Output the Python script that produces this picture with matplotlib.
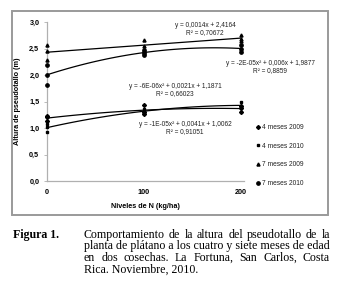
import numpy as np
import matplotlib
matplotlib.use("Agg")
import matplotlib.pyplot as plt
from matplotlib.patches import Rectangle
from matplotlib.lines import Line2D

# ---------------- data ----------------
n_levels = [0, 100, 200]
series_names = ["4 meses 2009", "4 meses 2010", "7 meses 2009", "7 meses 2010"]
# replicate values at each N level (three per level)
s_4m2009 = [[1.22, 1.20, 1.14], [1.44, 1.30, 1.27], [1.42, 1.37, 1.31]]
s_4m2010 = [[1.08, 1.01, 0.93], [1.36, 1.31, 1.28], [1.49, 1.42, 1.37]]
s_7m2009 = [[2.56, 2.45, 2.28], [2.66, 2.55, 2.48], [2.76, 2.68, 2.65]]
s_7m2010 = [[2.19, 2.00, 1.82], [2.47, 2.42, 2.38], [2.56, 2.50, 2.44]]
fit_degree = [2, 2, 1, 2]
equations = ["y = -6E-06x² + 0,0021x + 1,1871\nR² = 0,66023",
             "y = -1E-05x² + 0,0041x + 1,0062\nR² = 0,91051",
             "y = 0,0014x + 2,4164\nR² = 0,70672",
             "y = -2E-05x² + 0,006x + 1,9877\nR² = 0,8859"]
yticks = [0.0, 0.5, 1.0, 1.5, 2.0, 2.5, 3.0]
ytick_labels = ["0,0", "0,5", "1,0", "1,5", "2,0", "2,5", "3,0"]
xlabel = "Niveles de N (kg/ha)"
ylabel = "Altura de pseudotallo (m)"
caption_head = "Figura 1."
caption_lines = ["Comportamiento de la altura del pseudotallo de la",
                 "planta de plátano a los cuatro y siete meses de edad",
                 "en dos cosechas. La Fortuna, San Carlos, Costa",
                 "Rica. Noviembre, 2010."]
caption_justify = [True, False, True, False]

all_series = [s_4m2009, s_4m2010, s_7m2009, s_7m2010]
markers = ["D", "s", "^", "o"]
msizes = [2.0, 1.5, 2.2, 2.4]

# ---------------- figure ----------------
W, H = 339, 292
fig = plt.figure(figsize=(W / 100, H / 100), dpi=100)
fig.patch.set_facecolor("white")

def fx(px):
    return px / W

def fy(py):
    return 1 - py / H

# outer chart frame
fig.patches.append(Rectangle((fx(12), fy(215)), fx(328) - fx(12), fy(11) - fy(215),
                             transform=fig.transFigure, fill=False,
                             edgecolor="#9a9a9a", linewidth=1.4))

ax = fig.add_axes([fx(47), fy(181), fx(244) - fx(47), fy(22) - fy(181)])
ax.set_xlim(0, 203)
ax.set_ylim(0, 3.0)
ax.set_facecolor("none")
for sp in ["top", "right"]:
    ax.spines[sp].set_visible(False)
for sp in ["left", "bottom"]:
    ax.spines[sp].set_color("#b0b0b0")
    ax.spines[sp].set_linewidth(0.9)

ax.set_yticks(yticks)
ax.set_yticklabels(ytick_labels, fontsize=5.2, fontweight="bold", family="Liberation Sans")
ax.set_xticks(n_levels)
ax.set_xticklabels([str(v) for v in n_levels], fontsize=5.2, fontweight="bold",
                   family="Liberation Sans")
ax.tick_params(axis="y", length=2.5, width=0.6, color="#b0b0b0", pad=3)
ax.tick_params(axis="x", length=0, pad=6)
ax.set_xlabel(xlabel, fontsize=5.2, fontweight="bold", family="Liberation Sans", labelpad=5)
ax.set_ylabel(ylabel, fontsize=5.2, fontweight="bold", family="Liberation Sans", labelpad=6)

xs_fit = np.linspace(0, 200, 100)
for vals, deg, mk, ms in zip(all_series, fit_degree, markers, msizes):
    px, py = [], []
    for xv, reps in zip(n_levels, vals):
        for r in reps:
            px.append(xv)
            py.append(r)
    ax.plot(px, py, linestyle="none", marker=mk, markersize=ms, color="black",
            clip_on=False, zorder=3)
    coef = np.polyfit(px, py, deg)
    ax.plot(xs_fit, np.polyval(coef, xs_fit), color="black", linewidth=0.9, zorder=2)

# equation labels (figure pixel positions -> centre)
eq_pos = [(175, 90), (185, 128), (205, 29), (270, 67)]
for txt, (ex, ey) in zip(equations, eq_pos):
    fig.text(fx(ex), fy(ey), txt, ha="center", va="center", fontsize=4.7,
             family="Liberation Sans", color="#222222", linespacing=1.15,
             multialignment="center")

# legend
handles = [Line2D([], [], linestyle="none", marker=m, markersize=s, color="black")
           for m, s in zip(markers, msizes)]
leg = fig.legend(handles, series_names, loc="upper left",
                 bbox_to_anchor=(fx(257), fy(124)), frameon=False,
                 prop={"family": "Liberation Sans", "size": 4.8},
                 handlelength=0.35, handletextpad=0.35, labelspacing=1.75,
                 borderaxespad=0, borderpad=0)
for t in leg.get_texts():
    t.set_color("#222222")

# caption
renderer = fig.canvas.get_renderer()
x0, x1 = 84, 330
probe = fig.text(0, 0, caption_lines[1], fontsize=10, family="Liberation Serif")
natural = probe.get_window_extent(renderer).width
probe.remove()
cap_size = 10 * (x1 - x0) / natural

fig.text(fx(13), fy(235), caption_head, ha="left", va="center", fontsize=cap_size,
         fontweight="bold", family="Liberation Serif")

line_y = [235, 246.5, 258, 269.5]
for line, ly, just in zip(caption_lines, line_y, caption_justify):
    if not just:
        fig.text(fx(x0), fy(ly), line, ha="left", va="center", fontsize=cap_size,
                 family="Liberation Serif")
        continue
    words = line.split(" ")
    texts = [fig.text(0, fy(ly), w, ha="left", va="center", fontsize=cap_size,
                      family="Liberation Serif") for w in words]
    widths = [t.get_window_extent(renderer).width for t in texts]
    gap = (x1 - x0 - sum(widths)) / (len(words) - 1)
    cur = x0
    for t, w in zip(texts, widths):
        t.set_x(fx(cur))
        cur += w + gap

fig.savefig("out.png", dpi=100)
